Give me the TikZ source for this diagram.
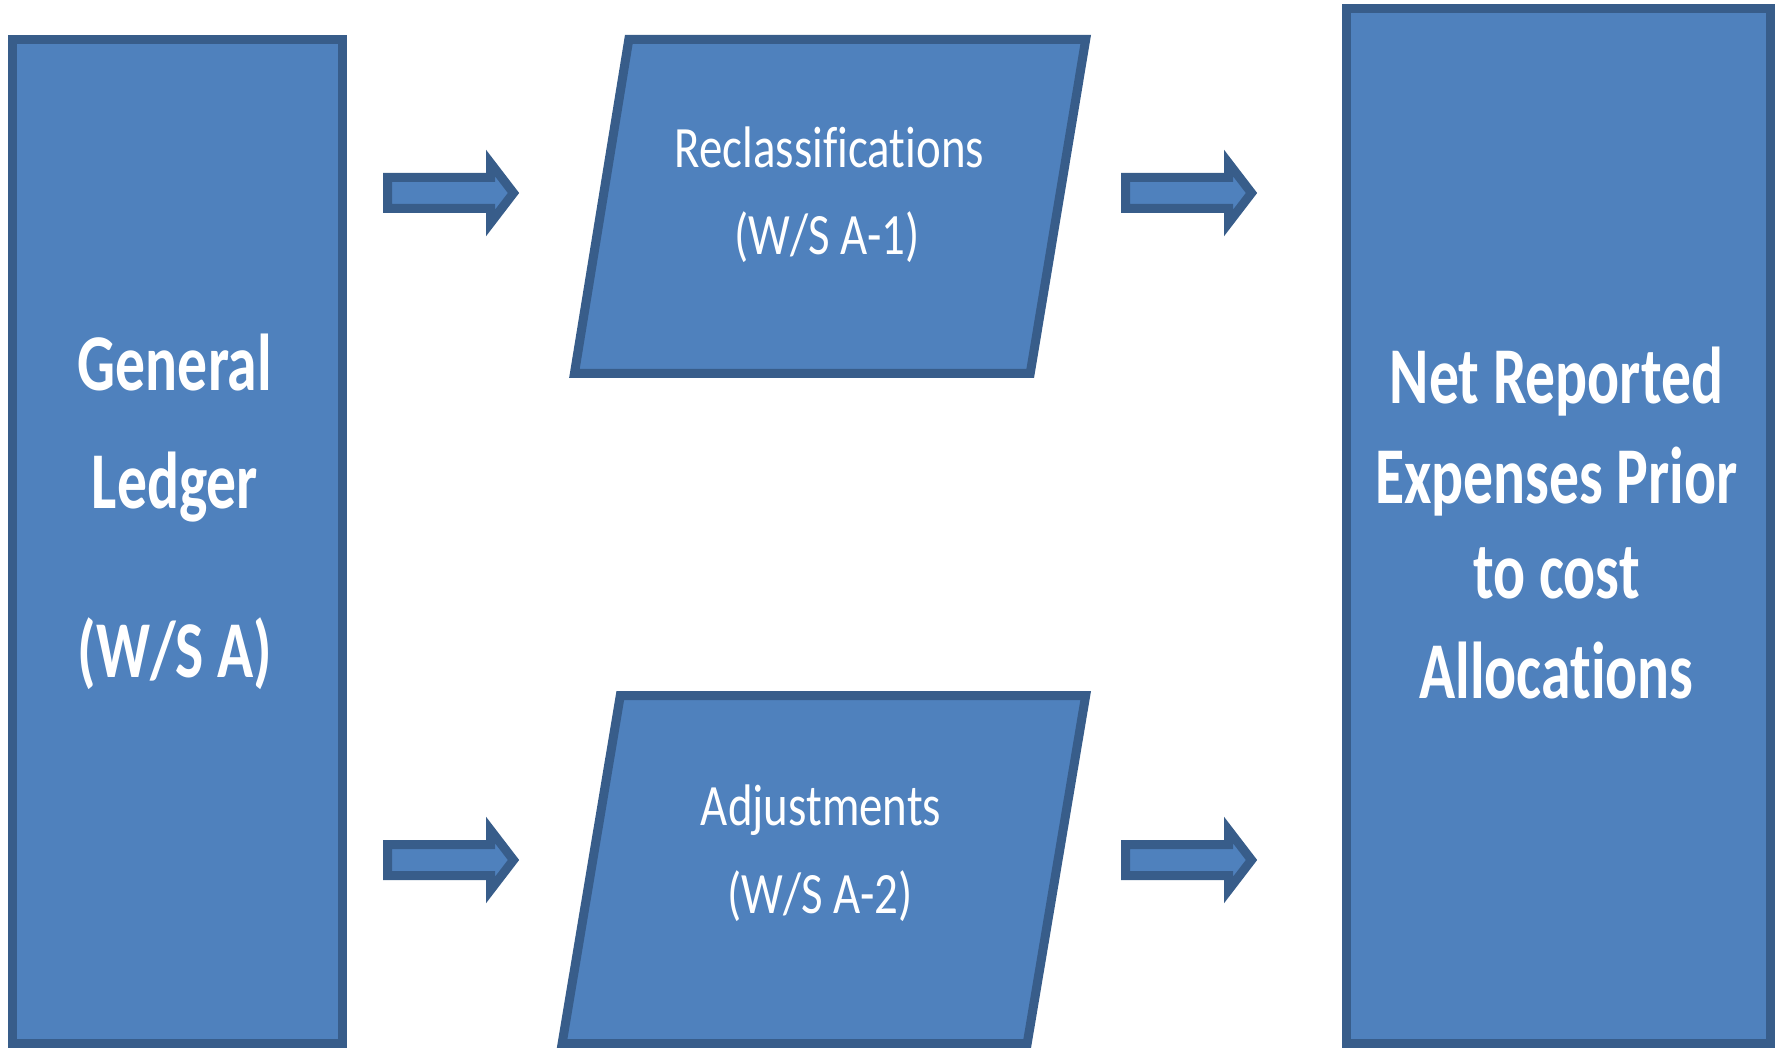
\documentclass[tikz,border=0pt]{standalone}
\usepackage{fontspec}
\setmainfont{Carlito}[RawFeature={-liga;-clig;-dlig;-calt}]
\definecolor{boxfill}{HTML}{4F81BD}
\definecolor{boxline}{HTML}{385D8A}
\newcommand{\nolig}{\kern0pt{}}
\begin{document}
\begin{tikzpicture}[x=0.5pt,y=-0.5pt,
  shapesty/.style={fill=boxfill,draw=boxline,line width=4.5pt,line join=miter},
  bigtxt/.style={text=white,inner sep=0pt,anchor=base,xscale=0.74,transform shape,
    font=\fontsize{40.3pt}{48pt}\selectfont\bfseries},
  midtxt/.style={text=white,inner sep=0pt,anchor=base,xscale=0.80,transform shape,
    font=\fontsize{29.3pt}{35pt}\selectfont},
  blockarrow/.pic={\path[shapesty] (0,-15.5) -- (103,-15.5) -- (103,-30) -- (126,0)
      -- (103,30) -- (103,15.5) -- (0,15.5) -- cycle;}]
\useasboundingbox (0,0) rectangle (1779,1048);
% boxes
\path[shapesty] (12.5,39.5) rectangle (342.5,1043.5);
\coordinate (gl) at (177.5,541.5);
\path[shapesty] (1346.5,8.5) rectangle (1770.5,1043.5);
\coordinate (net) at (1558.5,526);
\path[shapesty] (628.8,39.5) -- (1085.7,39.5) -- (1030.2,373.5) -- (574.4,373.5) -- cycle;
\coordinate (rec) at (830,206);
\path[shapesty] (620.3,695.5) -- (1085.7,695.5) -- (1027.2,1043.5) -- (562.1,1043.5) -- cycle;
\coordinate (adj) at (824,870);
% block arrows
\coordinate (a1) at (387.5,193);
\coordinate (a2) at (1125.5,193);
\coordinate (a3) at (387.5,860);
\coordinate (a4) at (1125.5,860);
\pic at (a1) {blockarrow};
\pic at (a2) {blockarrow};
\pic at (a3) {blockarrow};
\pic at (a4) {blockarrow};
% texts
\node[bigtxt] (gl1) at (175,391) {General};
\node[bigtxt] (gl2) at (175,508) {Ledger};
\node[bigtxt] (gl3) at (175,677) {(W/S A)};
\node[bigtxt] (n1) at (1556.5,403) {Net Reported};
\node[bigtxt] (n2) at (1556.5,503) {Expenses Prior};
\node[bigtxt] (n3) at (1556.5,598) {to cost};
\node[bigtxt] (n4) at (1556.5,698) {Allocat\nolig ions};
\node[midtxt] (r1) at (829.5,168) {Reclassif\nolig icat\nolig ions};
\node[midtxt] (r2) at (827,255) {(W/S A-1)};
\node[midtxt] (d1) at (821,825) {Adjustments};
\node[midtxt] (d2) at (820,913) {(W/S A-2)};
\end{tikzpicture}
\end{document}
